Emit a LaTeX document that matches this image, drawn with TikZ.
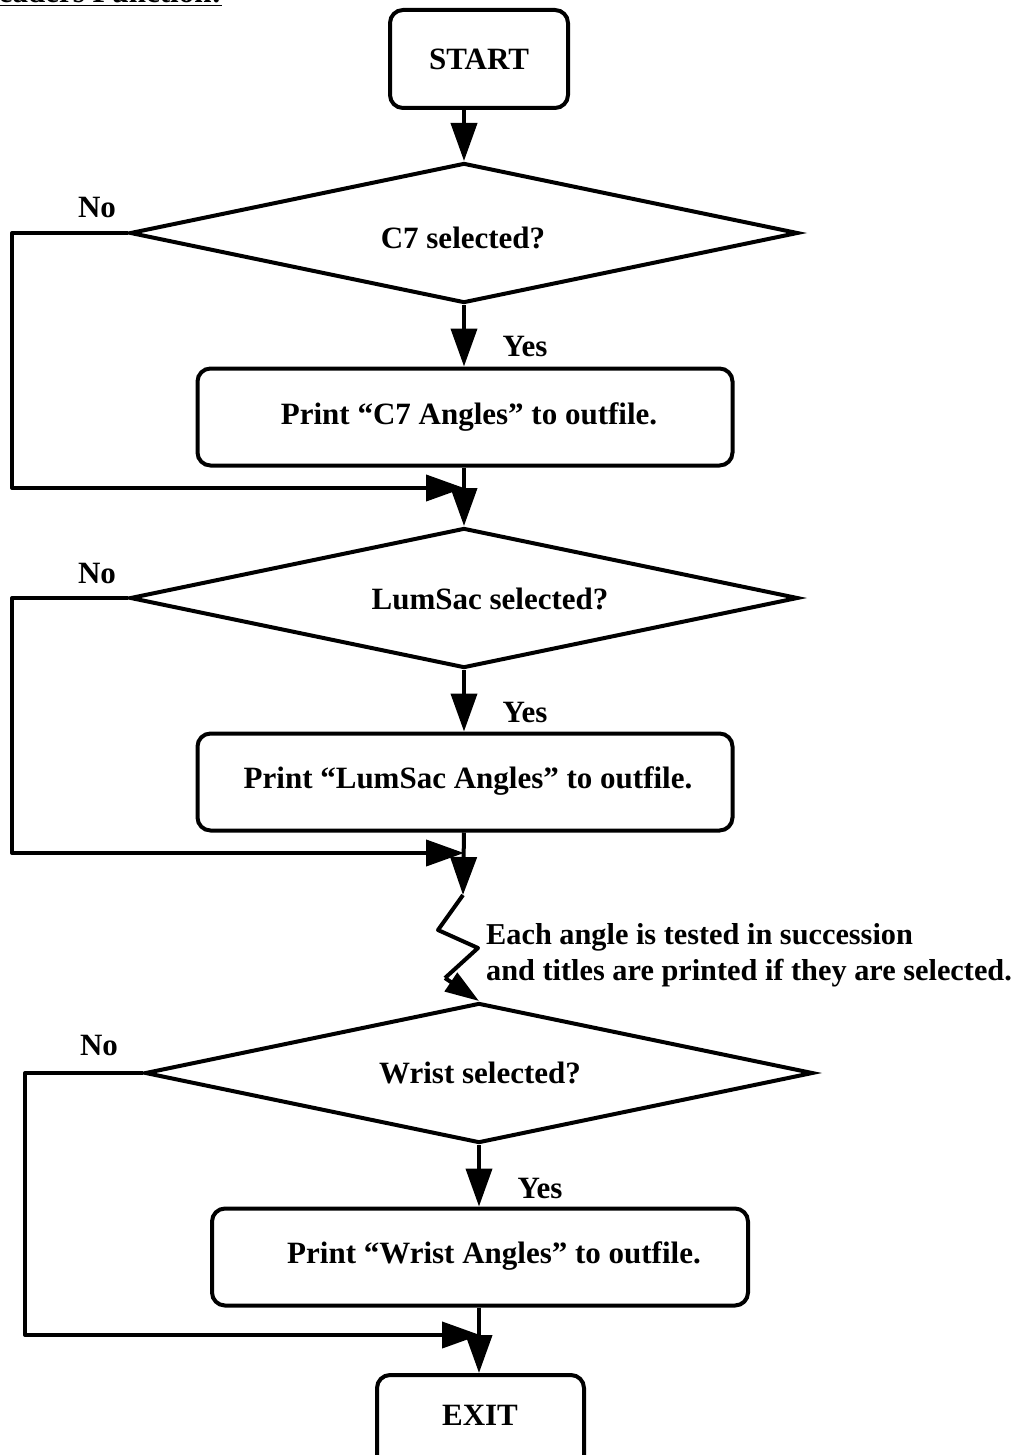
\documentclass[tikz,border=0pt]{standalone}
\usepackage{fontspec}
\setmainfont{Liberation Serif}
\usetikzlibrary{shapes.geometric,arrows.meta}
\begin{document}
\begin{tikzpicture}[x=1pt,y=-1pt,
  flow/.style={line width=4pt,line join=round},
  arr/.style={flow,-{Triangle[length=38pt,width=26pt]}},
  procbox/.style={draw,line width=4pt,rounded corners=13pt,minimum width=535pt,minimum height=97pt,inner sep=0pt},
  term/.style={draw,line width=4pt,rounded corners=13pt,inner sep=0pt},
  decision/.style={draw,line width=4pt,diamond,inner sep=0pt,minimum width=668pt,minimum height=140pt},
  txt/.style={font=\fontsize{31}{37}\selectfont\bfseries,inner sep=0pt},
  notetxt/.style={font=\fontsize{30.3}{36}\selectfont\bfseries,inner sep=0pt},
]
\useasboundingbox (0,0) rectangle (1021,1455);
\clip (0,0) rectangle (1021,1455);

% heading, running off the top edge
\node[txt,anchor=base east] (title) at (222,3) {\underline{Headers Function:}};

% terminals
\node[term,minimum width=178pt,minimum height=98pt] (start) at (479,59) {};
\node[txt] (starttxt) at (479,59) {START};

% first test
\node[decision] (d1) at (464,233) {};
\node[txt] (d1txt) at (463,238) {C7 selected?};
\node[procbox] (b1) at (465,417) {};
\node[txt] (b1txt) at (469,417) {Print “C7 Angles” to outfile.};
\coordinate (j1) at (464,488);

% second test
\node[decision] (d2) at (464,598) {};
\node[txt] (d2txt) at (490,599) {LumSac selected?};
\node[procbox] (b2) at (465,782) {};
\node[txt] (b2txt) at (468,781) {Print “LumSac Angles” to outfile.};
\coordinate (j2) at (464,853);

% break in the chain
\coordinate (z0) at (463,895);
\coordinate (z1) at (438,930);
\coordinate (z2) at (478,948);
\coordinate (z3) at (445,978);
\node[notetxt,anchor=north west,align=left] (note) at (486,923)
  {Each angle is tested in succession\\and titles are printed if they are selected.};

% last test
\node[decision] (d3) at (479,1073) {};
\node[txt] (d3txt) at (480,1073) {Wrist selected?};
\node[procbox,minimum width=536pt] (b3) at (480,1257) {};
\node[txt] (b3txt) at (494,1256) {Print “Wrist Angles” to outfile.};
\coordinate (j3) at (480,1335);

\node[term,minimum width=207pt,minimum height=98pt,anchor=north] (exit) at (480.5,1373) {};
\node[txt] (exittxt) at (480,1415) {EXIT};

% branch labels
\node[txt] (no1) at (97,208) {No};
\node[txt] (no2) at (97,573) {No};
\node[txt] (no3) at (99,1045) {No};
\node[txt] (yes1) at (525,347) {Yes};
\node[txt] (yes2) at (525,712) {Yes};
\node[txt] (yes3) at (540,1188) {Yes};

% connectors
\draw[arr] (start.south -| d1.north) -- (d1.north);
\draw[arr] (d1.south) -- (b1.north -| d1.south);
\draw[arr] (d1.west) -- (12,233) |- (j1);
\draw[arr] (b1.south -| d1.south) -- (d2.north);

\draw[arr] (d2.south) -- (b2.north -| d2.south);
\draw[arr] (d2.west) -- (12,598) |- (j2);
\draw[arr] (b2.south -| d2.south) -- (z0);

\draw[flow] (z0) -- (z1) -- (z2) -- (z3);
\draw[flow,-{Triangle[length=34pt,width=22pt]}] (z3) -- (d3.north);

\draw[arr] (d3.south) -- (b3.north -| d3.south);
\draw[arr] (d3.west) -- (25,1073) |- (j3);
\draw[arr] (b3.south -| d3.south) -- (exit.north -| d3.south);
\end{tikzpicture}
\end{document}
